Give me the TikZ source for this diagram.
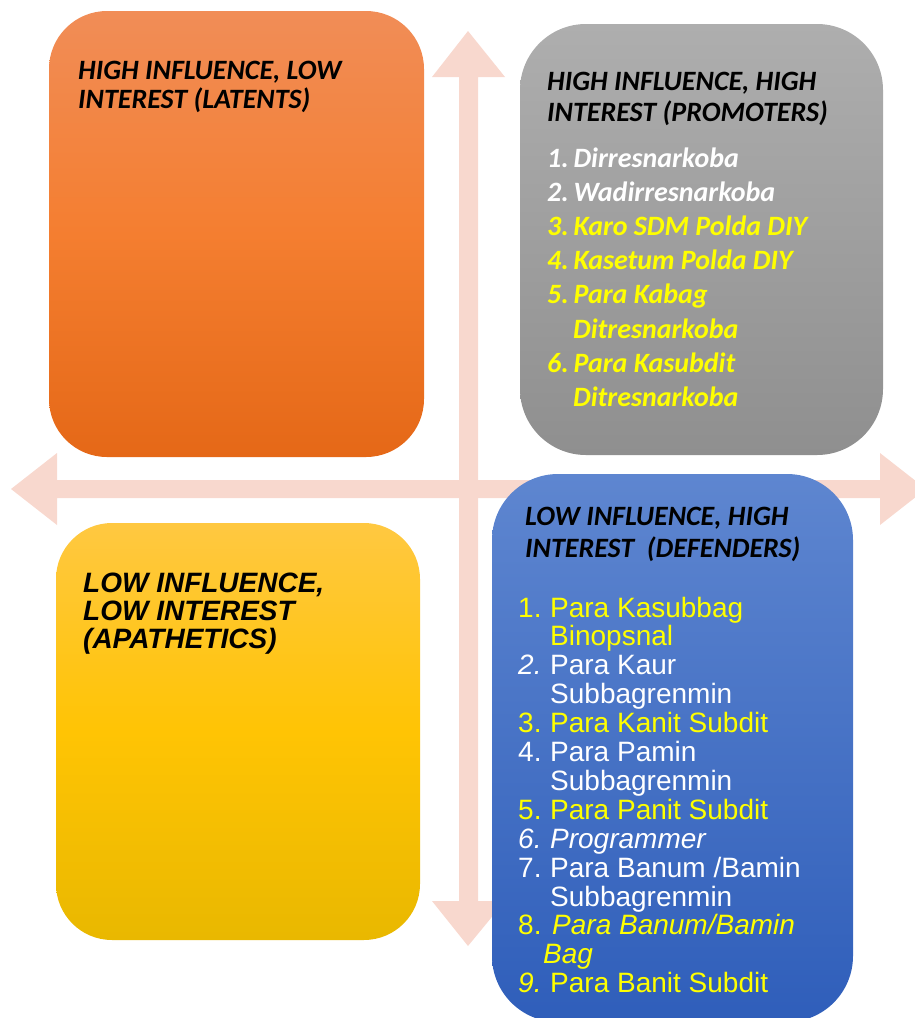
\documentclass[tikz,border=0pt]{standalone}
\usepackage{fontspec}
\newfontfamily\calfont{Carlito}
\newfontfamily\arifont{Liberation Sans}
\definecolor{arrowc}{HTML}{F8D8CE}
\definecolor{orT}{HTML}{F18D57}
\definecolor{orM}{HTML}{F47E30}
\definecolor{orB}{HTML}{E56817}
\definecolor{grT}{HTML}{AEAEAE}
\definecolor{grB}{HTML}{8F8F8F}
\definecolor{blT}{HTML}{5E86D0}
\definecolor{blB}{HTML}{2F5EBA}
\definecolor{yeT}{HTML}{FFC841}
\definecolor{yeM}{HTML}{FFC404}
\definecolor{yeB}{HTML}{E9B800}
\definecolor{txtyel}{HTML}{FFFF00}
\begin{document}
\begin{tikzpicture}[x=1pt,y=-1pt,
  quadbox/.style={draw=none, inner sep=0pt, rectangle},
  caltxt/.style={anchor=base west, inner sep=0pt, font=\calfont\bfseries\itshape\fontsize{28}{31}\selectfont},
  aritxt/.style={anchor=base west, inner sep=0pt, font=\arifont\fontsize{28}{29}\selectfont},
  ariital/.style={anchor=base west, inner sep=0pt, font=\arifont\itshape\fontsize{28}{29}\selectfont},
  aribold/.style={anchor=base west, inner sep=0pt, font=\arifont\bfseries\itshape\fontsize{28}{29}\selectfont},
]
\useasboundingbox (0,0) rectangle (915,1018);
\clip (0,0) rectangle (915,1018);
% axes arrows
\fill[arrowc] (468,31) -- (505,77) -- (478,77) -- (478,901) -- (505,901) -- (468,946)
  -- (432,901) -- (459,901) -- (459,77) -- (432,77) -- cycle;
\fill[arrowc] (11,489) -- (57,453) -- (57,480) -- (880,480) -- (880,453) -- (926,489)
  -- (880,525) -- (880,498) -- (57,498) -- (57,525) -- cycle;
% boxes
\node[quadbox, rounded corners=58pt, minimum width=375pt, minimum height=446pt,
  top color=orT, bottom color=orB, middle color=orM] (latents) at (236.5,234) {};
\node[quadbox, rounded corners=66pt, minimum width=363pt, minimum height=431pt,
  top color=grT, bottom color=grB] (promoters) at (701.5,239.5) {};
\node[quadbox, rounded corners=66pt, minimum width=361pt, minimum height=548pt,
  top color=blT, bottom color=blB] (defenders) at (672.5,748) {};
\node[quadbox, rounded corners=56pt, minimum width=364pt, minimum height=417pt,
  top color=yeT, bottom color=yeB, middle color=yeM] (apathetics) at (238,731.5) {};
% latents
\node[caltxt] (lt1) at (78,79) {HIGH INFLUENCE, LOW};
\node[caltxt] (lt2) at (78,108.5) {INTEREST (LATENTS)};
% promoters
\node[caltxt] (pt1) at (547,90) {HIGH INFLUENCE, HIGH};
\node[caltxt] (pt2) at (547,121) {INTEREST (PROMOTERS)};
\node[caltxt, text=white] (p1) at (547,167) {1.\,Dirresnarkoba};
\node[caltxt, text=white] (p2) at (547,201.2) {2.\,Wadirresnarkoba};
\node[caltxt, text=txtyel] (p3) at (547,235.4) {3.\,Karo SDM Polda DIY};
\node[caltxt, text=txtyel] (p4) at (547,269.6) {4.\,Kasetum Polda DIY};
\node[caltxt, text=txtyel] (p5) at (547,303.8) {5.\,Para Kabag};
\node[caltxt, text=txtyel] (p5b) at (573,338) {Ditresnarkoba};
\node[caltxt, text=txtyel] (p6) at (547,372.2) {6.\,Para Kasubdit};
\node[caltxt, text=txtyel] (p6b) at (573,406.4) {Ditresnarkoba};
% apathetics
\node[aribold] (at1) at (83,592) {LOW INFLUENCE,};
\node[aribold] (at2) at (83,620) {LOW INTEREST};
\node[aribold] (at3) at (83,648) {(APATHETICS)};
% defenders
\node[caltxt] (dt1) at (525,525) {LOW INFLUENCE, HIGH};
\node[caltxt] (dt2) at (525,557) {INTEREST\ \ (DEFENDERS)};
\node[aritxt, text=txtyel] (d1) at (518,617) {\makebox[32pt][l]{1.}Para Kasubbag};
\node[aritxt, text=txtyel] (d1b) at (550,645.9) {Binopsnal};
\node[aritxt, text=white] (d2) at (518,674.8) {\makebox[32pt][l]{\itshape 2.}Para Kaur};
\node[aritxt, text=white] (d2b) at (550,703.7) {Subbagrenmin};
\node[aritxt, text=txtyel] (d3) at (518,732.6) {\makebox[32pt][l]{3.}Para Kanit Subdit};
\node[aritxt, text=white] (d4) at (518,761.5) {\makebox[32pt][l]{4.}Para Pamin};
\node[aritxt, text=white] (d4b) at (550,790.4) {Subbagrenmin};
\node[aritxt, text=txtyel] (d5) at (518,819.3) {\makebox[32pt][l]{5.}Para Panit Subdit};
\node[ariital, text=white] (d6) at (518,848.2) {\makebox[32pt][l]{6.}Programmer};
\node[aritxt, text=white] (d7) at (518,877.1) {\makebox[32pt][l]{7.}Para Banum /Bamin};
\node[aritxt, text=white] (d7b) at (550,906) {Subbagrenmin};
\node[aritxt, text=txtyel] (d8) at (518,934.9) {\makebox[34pt][l]{8.}\itshape Para Banum/Bamin};
\node[ariital, text=txtyel] (d8b) at (543,963.8) {Bag};
\node[aritxt, text=txtyel] (d9) at (518,992.7) {\makebox[32pt][l]{\itshape 9.}Para Banit Subdit};
\end{tikzpicture}
\end{document}
